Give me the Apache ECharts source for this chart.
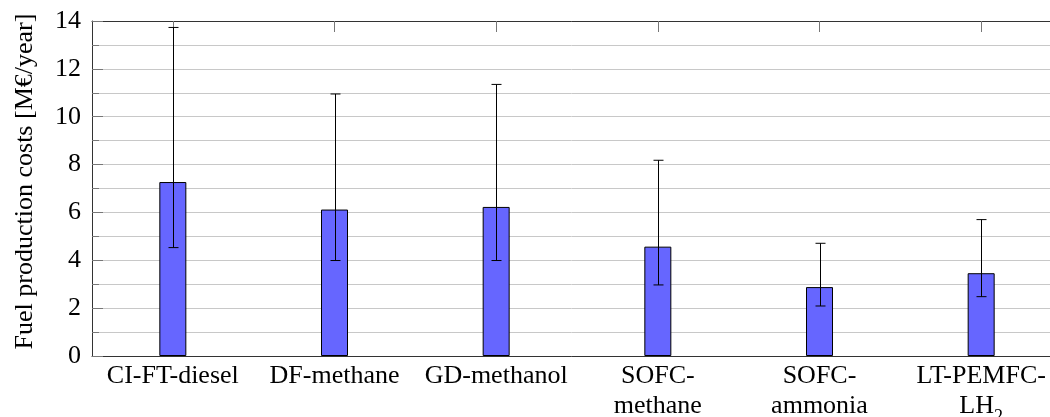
<!DOCTYPE html>
<html>
<head>
<meta charset="utf-8">
<script src="https://cdn.jsdelivr.net/npm/echarts@6/dist/echarts.min.js"></script>
<style>html,body{margin:0;padding:0;background:#fff}#c{width:1050px;height:417px}</style>
</head>
<body>
<div id="c"></div>
<script>
const categories = ['CI-FT-diesel', 'DF-methane', 'GD-methanol', 'SOFC-\nmethane', 'SOFC-\nammonia', 'LT-PEMFC-\nLH{sub|2}'];
const costs = [7.27, 6.12, 6.23, 4.57, 2.88, 3.46];
const errLow = [4.53, 3.99, 3.99, 2.97, 2.09, 2.48];
const errHigh = [13.73, 10.95, 11.35, 8.18, 4.71, 5.70];
const yTicks = [0, 2, 4, 6, 8, 10, 12, 14];

const font = 'Liberation Serif';
const chart = echarts.init(document.getElementById('c'), null, {renderer: 'canvas'});
const errData = categories.map((c, i) => [i, errLow[i], errHigh[i]]);

chart.setOption({
  animation: false,
  backgroundColor: '#ffffff',
  grid: {left: 92, top: 21, bottom: 61, right: -12, containLabel: false, outerBoundsMode: 'none'},
  xAxis: [{
    type: 'category', data: categories, position: 'bottom', boundaryGap: true,
    axisLine: {show: true, lineStyle: {color: '#333', width: 1}},
    axisTick: {show: false},
    axisLabel: {
      interval: 0, margin: 5, color: '#000', fontFamily: font, fontSize: 26, lineHeight: 30,
      rich: {sub: {fontFamily: font, fontSize: 18, verticalAlign: 'bottom', lineHeight: 22, padding: [0, 0, -5, 0]}}
    },
    splitLine: {show: false}
  }, {
    type: 'category', data: categories, position: 'top', boundaryGap: true,
    axisLine: {show: true, lineStyle: {color: '#333', width: 1}},
    axisTick: {show: true, alignWithLabel: true, inside: true, length: 11, lineStyle: {color: '#777'}},
    axisLabel: {show: false},
    splitLine: {show: false}
  }],
  yAxis: {
    type: 'value', min: 0, max: 14, interval: 2,
    name: 'Fuel production costs [M€/year]', nameLocation: 'middle', nameGap: 54,
    nameTextStyle: {fontFamily: font, fontSize: 26, color: '#000', padding: [0, 0, 0, 14]},
    axisLine: {show: true, lineStyle: {color: '#333', width: 1}},
    axisTick: {show: true, inside: true, length: 11, lineStyle: {color: '#777'}},
    minorTick: {show: true, splitNumber: 2, length: 7, lineStyle: {color: '#777'}},
    axisLabel: {
      margin: 11, color: '#000', fontFamily: font, fontSize: 26,
      formatter: v => yTicks.includes(v) ? String(v) : ''
    },
    splitLine: {show: true, lineStyle: {color: '#c8c8c8', width: 1}},
    minorSplitLine: {show: true, lineStyle: {color: '#c8c8c8', width: 1}}
  },
  series: [{
    type: 'bar', data: costs, barWidth: 27, xAxisIndex: 0,
    itemStyle: {color: '#6666ff', borderColor: '#000', borderWidth: 1}
  }, {
    type: 'custom', data: errData, xAxisIndex: 0, z: 5,
    renderItem: function (params, api) {
      const x = api.value(0);
      const lo = api.coord([x, api.value(1)]);
      const hi = api.coord([x, api.value(2)]);
      const cx = Math.round(lo[0]) + 0.5;
      const hw = 5;
      const st = {stroke: '#000', lineWidth: 1};
      return {
        type: 'group',
        children: [
          {type: 'line', shape: {x1: cx, y1: lo[1], x2: cx, y2: hi[1]}, style: st},
          {type: 'line', shape: {x1: cx - hw, y1: lo[1], x2: cx + hw, y2: lo[1]}, style: st},
          {type: 'line', shape: {x1: cx - hw, y1: hi[1], x2: cx + hw, y2: hi[1]}, style: st}
        ]
      };
    }
  }]
});
</script>
</body>
</html>
